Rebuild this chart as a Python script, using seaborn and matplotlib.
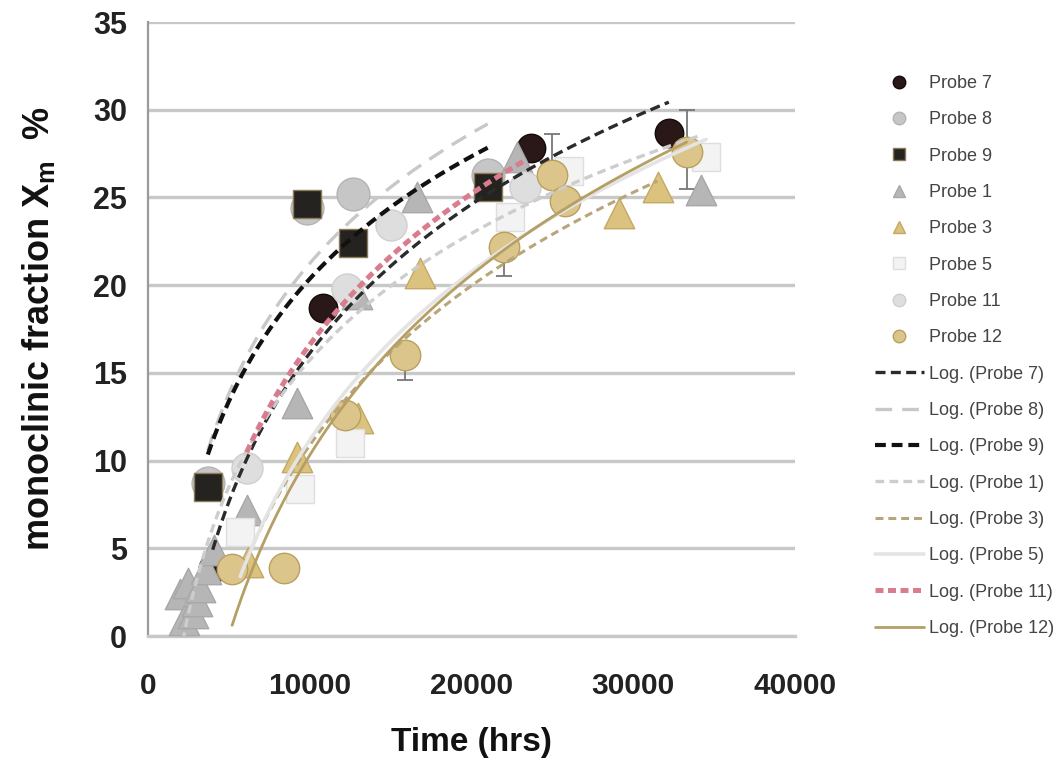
import numpy as np
import pandas as pd
import matplotlib
matplotlib.use("Agg")
import matplotlib.pyplot as plt
from matplotlib.lines import Line2D
import seaborn as sns

# ---------------- data ----------------
probe7_x = [4000, 10800, 23700, 32200]
probe7_y = [3.9, 18.7, 27.8, 28.7]

probe8_x = [3700, 9800, 12700, 21000]
probe8_y = [8.7, 24.4, 25.2, 26.3]

probe9_x = [3700, 9800, 12700, 21000]
probe9_y = [8.5, 24.6, 22.4, 25.6]

probe1_x = [2000, 2200, 2500, 2800, 3000, 3200, 3600, 4100, 6100, 9200, 12900, 16600, 22800, 34200]
probe1_y = [2.4, 0.9, 3.0, 1.3, 2.0, 2.8, 3.8, 4.9, 7.2, 13.3, 19.5, 25.0, 27.3, 25.4]

probe3_x = [6200, 9200, 13000, 16800, 29100, 31500]
probe3_y = [4.2, 10.2, 12.4, 20.7, 24.1, 25.6]

probe5_x = [5700, 9400, 12500, 22400, 26000, 34500]
probe5_y = [5.9, 8.4, 11.0, 23.9, 26.5, 27.3]

probe11_x = [6100, 12300, 15000, 23300]
probe11_y = [9.6, 19.8, 23.4, 25.6]

probe12_x = [5200, 8400, 12200, 15900, 22000, 25000, 25800, 33300]
probe12_y = [3.8, 3.9, 12.6, 16.0, 22.2, 26.3, 24.8, 27.6]
probe12_err_lo = [0, 0, 0.3, 1.4, 1.7, 0, 0, 2.1]
probe12_err_hi = [0, 0, 0.3, 0, 0, 2.3, 0, 2.4]

series_names = ["Probe 7", "Probe 8", "Probe 9", "Probe 1", "Probe 3", "Probe 5", "Probe 11", "Probe 12"]
x_ticks = [0, 10000, 20000, 30000, 40000]
y_ticks = [0, 5, 10, 15, 20, 25, 30, 35]

# ---------------- styles ----------------
sns.set_style("white")
plt.rcParams["font.family"] = ["Liberation Sans", "DejaVu Sans"]

data = {
    "Probe 7": (probe7_x, probe7_y),
    "Probe 8": (probe8_x, probe8_y),
    "Probe 9": (probe9_x, probe9_y),
    "Probe 1": (probe1_x, probe1_y),
    "Probe 3": (probe3_x, probe3_y),
    "Probe 5": (probe5_x, probe5_y),
    "Probe 11": (probe11_x, probe11_y),
    "Probe 12": (probe12_x, probe12_y),
}

mstyle = {
    "Probe 7": dict(marker="o", color="#2a1818", edge="#140a0a", s=420),
    "Probe 8": dict(marker="o", color="#c6c6c6", edge="#b4b4b4", s=560),
    "Probe 9": dict(marker="s", color="#252320", edge="#8a7a55", s=420),
    "Probe 1": dict(marker="^", color="#b6b6b6", edge="#a8a8a8", s=480),
    "Probe 3": dict(marker="^", color="#dcc27f", edge="#c4a864", s=480),
    "Probe 5": dict(marker="s", color="#f3f3f3", edge="#dedede", s=420),
    "Probe 11": dict(marker="o", color="#dedede", edge="#cfcfcf", s=500),
    "Probe 12": dict(marker="o", color="#dcc58a", edge="#b9a060", s=480),
}

lstyle = {
    "Probe 7": dict(color="#2b2b2b", dashes=(3.0, 1.6), lw=2.4),
    "Probe 8": dict(color="#c8c8c8", dashes=(5.0, 3.0), lw=2.4),
    "Probe 9": dict(color="#111111", dashes=(2.6, 1.4), lw=3.0),
    "Probe 1": dict(color="#cdcdcd", dashes=(2.6, 1.6), lw=2.4),
    "Probe 3": dict(color="#b8a67a", dashes=(2.6, 1.6), lw=2.2),
    "Probe 5": dict(color="#e4e4e4", dashes=None, lw=2.6),
    "Probe 11": dict(color="#d97c8e", dashes=(1.6, 0.9), lw=3.6),
    "Probe 12": dict(color="#b59f64", dashes=None, lw=2.0),
}

fig = plt.figure(figsize=(10.61, 7.60), dpi=100)
ax = fig.add_axes([148 / 1061, 1 - 636 / 760, (795 - 148) / 1061, (636 - 22) / 760])

# markers
for name in series_names:
    xs, ys = data[name]
    st = mstyle[name]
    sns.scatterplot(x=xs, y=ys, ax=ax, marker=st["marker"], color=st["color"],
                    edgecolor=st["edge"], linewidth=1.0, s=st["s"], zorder=3, legend=False)

# error bars for Probe 12
ax.errorbar(probe12_x, probe12_y, yerr=[probe12_err_lo, probe12_err_hi], fmt="none",
            ecolor="#777777", elinewidth=1.3, capsize=6, capthick=1.3, zorder=2)

# logarithmic trend lines (least squares fit of y = a ln x + b)
for name in series_names:
    xs, ys = data[name]
    xs = np.asarray(xs, float)
    ys = np.asarray(ys, float)
    a, b = np.polyfit(np.log(xs), ys, 1)
    xf = np.geomspace(xs.min(), xs.max(), 200)
    yf = a * np.log(xf) + b
    st = lstyle[name]
    sns.lineplot(x=xf, y=yf, ax=ax, color=st["color"], linewidth=st["lw"], zorder=4,
                 sort=False, estimator=None)
    line = ax.lines[-1]
    if st["dashes"] is not None:
        line.set_dashes(st["dashes"])

# axes styling
ax.set_xlim(0, 40000)
ax.set_ylim(0, 35)
ax.set_xticks(x_ticks)
ax.set_yticks(y_ticks)
ax.set_xticklabels([str(v) for v in x_ticks])
ax.set_yticklabels([str(v) for v in y_ticks])
ax.yaxis.grid(True, color="#c8c8c8", linewidth=2.4)
ax.xaxis.grid(False)
ax.set_axisbelow(True)
for sp in ["top", "right"]:
    ax.spines[sp].set_visible(False)
ax.spines["left"].set_color("#9a9a9a")
ax.spines["left"].set_linewidth(1.6)
ax.spines["bottom"].set_color("#c8c8c8")
ax.spines["bottom"].set_linewidth(2.4)
ax.tick_params(axis="y", which="major", direction="out", length=5, width=1.2, color="#9a9a9a",
               pad=10, labelsize=22, labelcolor="#222222")
ax.tick_params(axis="x", which="major", direction="out", length=5, width=1.2, color="#9a9a9a",
               pad=21, labelsize=21.5, labelcolor="#222222")
for lab in ax.get_xticklabels() + ax.get_yticklabels():
    lab.set_fontweight("bold")

ax.set_xlabel("Time (hrs)", fontsize=24, fontweight="bold", color="#111111", labelpad=19)
ax.set_ylabel(r"monoclinic fraction X$_\mathregular{m}$  %",
              fontsize=26, fontweight="bold", color="#111111", labelpad=26)

# legend
handles = []
labels = []
for name in series_names:
    st = mstyle[name]
    handles.append(Line2D([], [], linestyle="none", marker=st["marker"], markersize=9,
                          markerfacecolor=st["color"], markeredgecolor=st["edge"]))
    labels.append(name)
for name in series_names:
    st = lstyle[name]
    ln = Line2D([], [], color=st["color"], linewidth=st["lw"])
    if st["dashes"] is not None:
        ln.set_dashes(st["dashes"])
    handles.append(ln)
    labels.append(f"Log. ({name})")

leg = fig.legend(handles, labels, loc="upper left", bbox_to_anchor=(866 / 1061, 1 - 66 / 760),
                 frameon=False, fontsize=13.0, labelspacing=1.07, handlelength=2.7,
                 handletextpad=0.3, borderpad=0)
for t in leg.get_texts():
    t.set_color("#444444")

fig.savefig("out.png", dpi=100)
